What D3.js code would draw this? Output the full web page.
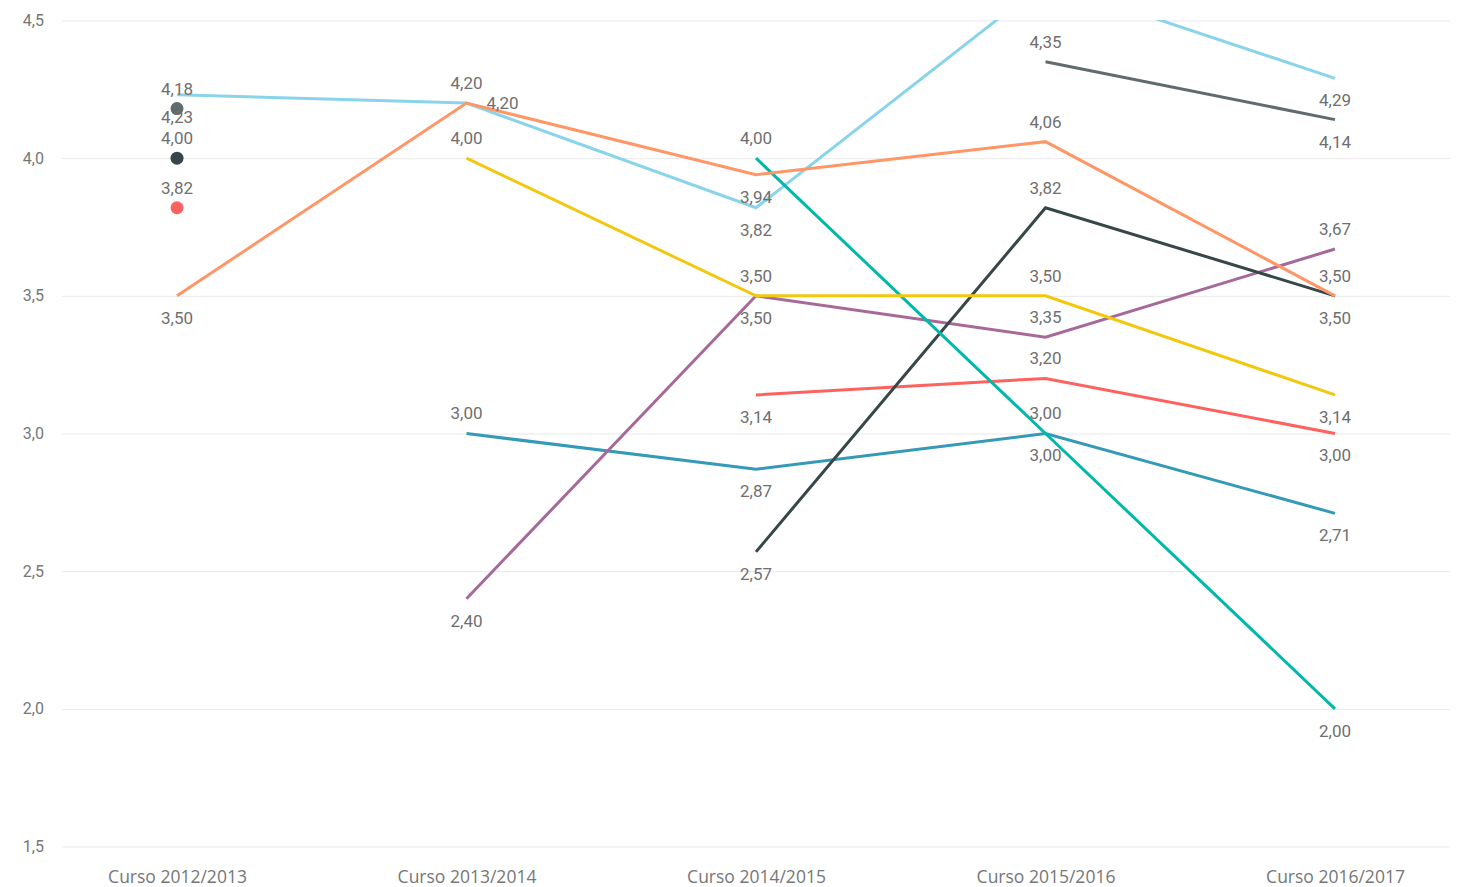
<!DOCTYPE html>
<html>
<head>
<meta charset="utf-8">
<script src="https://cdn.jsdelivr.net/npm/d3@7"></script>
<style>
  body { margin: 0; background: #fff; }
  .grid line { stroke: #e9e9e9; stroke-width: 1; }
  .ylab { font-family: Roboto, sans-serif; font-size: 16px; fill: #777; }
  .xlab { font-family: "Open Sans", sans-serif; font-size: 17.5px; fill: #777; }
  .dlab { font-family: Roboto, sans-serif; font-size: 17px; fill: #6f6f6f; }
</style>
</head>
<body>
<svg class="chart"></svg>
<script>
var categories = ["Curso 2012/2013", "Curso 2013/2014", "Curso 2014/2015", "Curso 2015/2016", "Curso 2016/2017"];
var yTicks = [1.5, 2.0, 2.5, 3.0, 3.5, 4.0, 4.5];

// one array per series, null = no value that year
var lightBlue = [4.23, 4.20, 3.82, 4.64, 4.29];
var orange    = [3.50, 4.20, 3.94, 4.06, 3.50];
var yellow    = [null, 4.00, 3.50, 3.50, 3.14];
var teal      = [null, null, 4.00, 3.00, 2.00];
var dark      = [4.00, null, 2.57, 3.82, 3.50];
var grey      = [4.18, null, null, 4.35, 4.14];
var red       = [3.82, null, 3.14, 3.20, 3.00];
var purple    = [null, 2.40, 3.50, 3.35, 3.67];
var blue      = [null, 3.00, 2.87, 3.00, 2.71];

// label side for each point: t = above, b = below, r = right
var lightBlueLab = ["b", "r", "b", null, "b"];
var orangeLab    = ["b", "t", "b", "t", "t"];
var yellowLab    = [null, "t", "t", "t", "b"];
var tealLab      = [null, null, "t", "t", "b"];
var darkLab      = ["t", null, "b", "t", "b"];
var greyLab      = ["t", null, null, "t", "b"];
var redLab       = ["t", null, "b", "t", "b"];
var purpleLab    = [null, "b", "b", "t", "t"];
var blueLab      = [null, "t", "b", "b", "b"];

var series = [
  {values: lightBlue, labels: lightBlueLab, color: "#8AD4EB"},
  {values: blue,      labels: blueLab,      color: "#3599B8"},
  {values: purple,    labels: purpleLab,    color: "#A66999"},
  {values: red,       labels: redLab,       color: "#FD625E"},
  {values: grey,      labels: greyLab,      color: "#5F6B6D"},
  {values: dark,      labels: darkLab,      color: "#374649"},
  {values: teal,      labels: tealLab,      color: "#01B8AA"},
  {values: yellow,    labels: yellowLab,    color: "#F2C80F"},
  {values: orange,    labels: orangeLab,    color: "#FE9666"}
];

var width = 1458, height = 887;
var svg = d3.select(".chart").attr("width", width).attr("height", height);

var x = d3.scalePoint().domain(categories).range([177, 1335]);
var y = d3.scaleLinear().domain([1.5, 4.5]).range([846.5, 20.5]);
var fmt = function(v) { return d3.format(".2f")(v).replace(".", ","); };

svg.append("defs").append("clipPath").attr("id", "plot")
  .append("rect").attr("x", 0).attr("y", 20).attr("width", width).attr("height", 827);

// gridlines + y labels
var yaxis = svg.append("g").attr("class", "grid")
  .attr("transform", "translate(62,0)")
  .call(d3.axisLeft(y).tickValues(yTicks).tickSize(-1388)
    .tickFormat(function(d) { return d3.format(".1f")(d).replace(".", ","); }));
yaxis.select(".domain").remove();
yaxis.selectAll("text").attr("class", "ylab").attr("x", -18).attr("dy", "0.32em");

// x labels
var xaxis = svg.append("g").attr("transform", "translate(0,846)")
  .call(d3.axisBottom(x).tickSize(0));
xaxis.select(".domain").remove();
xaxis.selectAll("text").attr("class", "xlab").attr("y", 25).attr("dy", "0.71em");

var line = d3.line()
  .defined(function(d) { return d !== null; })
  .x(function(d, i) { return x(categories[i]); })
  .y(function(d) { return y(d); });

var plot = svg.append("g").attr("clip-path", "url(#plot)");

series.forEach(function(s) {
  plot.append("path")
    .attr("d", line(s.values))
    .attr("fill", "none")
    .attr("stroke", s.color)
    .attr("stroke-width", 3);

  // lone points are shown as dots
  s.values.forEach(function(v, i) {
    if (v === null) return;
    var prev = i > 0 ? s.values[i - 1] : null;
    var next = i < s.values.length - 1 ? s.values[i + 1] : null;
    if (prev === null && next === null) {
      plot.append("circle")
        .attr("cx", x(categories[i]))
        .attr("cy", y(v))
        .attr("r", 6.5)
        .attr("fill", s.color);
    }
  });
});

var labels = svg.append("g");
series.forEach(function(s) {
  s.values.forEach(function(v, i) {
    var side = s.labels[i];
    if (v === null || !side) return;
    var px = x(categories[i]), py = y(v);
    if (side === "t") py -= 20;
    if (side === "b") py += 22;
    if (side === "r") px += 36;
    labels.append("text")
      .attr("class", "dlab")
      .attr("x", px)
      .attr("y", py)
      .attr("dy", "0.35em")
      .attr("text-anchor", "middle")
      .text(fmt(v));
  });
});
</script>
</body>
</html>
